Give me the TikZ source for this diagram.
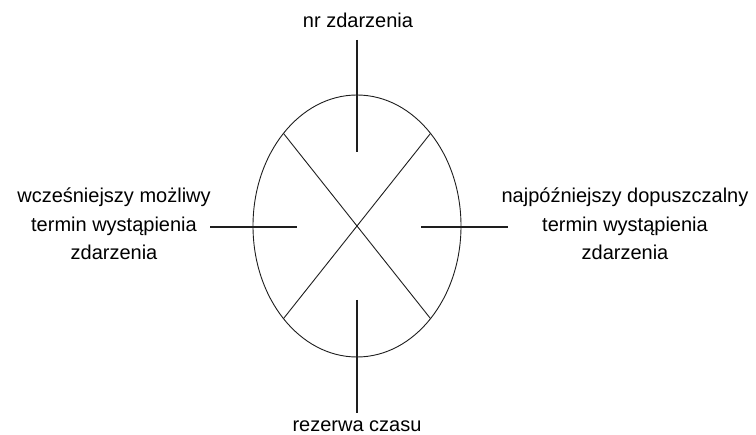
\documentclass[tikz,border=0pt]{standalone}
\usepackage{fontspec}
\setmainfont{Liberation Sans}
\usetikzlibrary{positioning, calc}
\definecolor{Ink}{HTML}{1E1E1E}

\begin{document}
\begin{tikzpicture}[x=1pt, y=-1pt,
    tekst/.style={font=\fontsize{20}{28.5}\selectfont, align=center, inner sep=0pt},
    spoke/.style={draw=Ink, line width=1.3pt},
    rim/.style={draw=Ink, line width=0.9pt}]

    \useasboundingbox (0,0) rectangle (756,435);

    % === Event circle with its cross ===
    \coordinate (c) at (357,226);
    \draw[rim] (c) ellipse (104 and 131);
    \draw[rim] ($(c)+(45:104 and 131)$) -- ($(c)+(225:104 and 131)$);
    \draw[rim] ($(c)+(135:104 and 131)$) -- ($(c)+(315:104 and 131)$);

    % === Spokes ===
    \coordinate (topA) at (357,40);   \coordinate (topB) at (357,152);
    \coordinate (botA) at (357,300);  \coordinate (botB) at (357,413);
    \coordinate (lefA) at (210,227);  \coordinate (lefB) at (297,227);
    \coordinate (rigA) at (421,227);  \coordinate (rigB) at (508,227);
    \draw[spoke] (topA) -- (topB);
    \draw[spoke] (botA) -- (botB);
    \draw[spoke] (lefA) -- (lefB);
    \draw[spoke] (rigA) -- (rigB);

    % === Labels (base = last line) ===
    \node[tekst, anchor=base] (nr) at (358,28) {nr zdarzenia};
    \node[tekst, anchor=base] (rezerwa) at (357,432) {rezerwa czasu};
    \node[tekst, anchor=base] (wczesny) at (114,260) {wcześniejszy możliwy\\termin wystąpienia\\zdarzenia};
    \node[tekst, anchor=base] (pozny) at (625,260) {najpóźniejszy dopuszczalny\\termin wystąpienia\\zdarzenia};

\end{tikzpicture}
\end{document}
